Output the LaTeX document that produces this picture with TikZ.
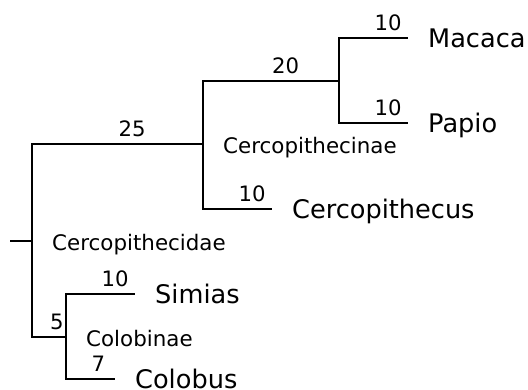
\documentclass[tikz,border=0pt]{standalone}
\usepackage{fontspec}
\setmainfont{DejaVu Sans}
\usetikzlibrary{positioning}
\begin{document}
\begin{tikzpicture}[x=1bp, y=-1bp,
    branch/.style={line width=2.2bp},
    taxon/.style={font=\fontsize{25.6bp}{30bp}\selectfont, inner sep=0pt, text height=18.7bp, text depth=0pt},
    dist/.style={font=\fontsize{21.2bp}{25bp}\selectfont, inner sep=0pt, anchor=base west, yshift=8bp},
    clade/.style={font=\fontsize{21.4bp}{25bp}\selectfont, inner sep=0pt, anchor=base west, xshift=20bp, yshift=-9.5bp}]
    \useasboundingbox (0,0) rectangle (528,389);
    % branch points
    \coordinate (base) at (10,241);
    \coordinate (root) at (32,241);
    \coordinate (cercopithecinae) at (203,144);
    \coordinate (macpap) at (339,81);
    \coordinate (macaca) at (408,38);
    \coordinate (papio) at (408,123);
    \coordinate (cercopithecus) at (272,209);
    \coordinate (colobinae) at (66,337);
    \coordinate (simias) at (135,294);
    \coordinate (colobus) at (115,379);
    % branches
    \draw[branch] (base) -- (root);
    \draw[branch] (root) |- node[dist, pos=0.75] {25} (cercopithecinae);
    \draw[branch] (cercopithecinae) |- node[dist, pos=0.75] {20} (macpap);
    \draw[branch] (macpap) |- node[dist, pos=0.75] {10} (macaca);
    \draw[branch] (macpap) |- node[dist, pos=0.75] {10} (papio);
    \draw[branch] (cercopithecinae) |- node[dist, pos=0.75] {10} (cercopithecus);
    \draw[branch] (root) |- node[dist, pos=0.75] {5} (colobinae);
    \draw[branch] (colobinae) |- node[dist, pos=0.75] {10} (simias);
    \draw[branch] (colobinae) |- node[dist, pos=0.75] {7} (colobus);
    % clade names
    \node[clade] (cercopithecidaename) at (root) {Cercopithecidae};
    \node[clade] (cercopithecinaename) at (cercopithecinae) {Cercopithecinae};
    \node[clade] (colobinaename) at (colobinae) {Colobinae};
    % taxa
    \node[taxon, right=20bp of macaca] (macacaname) {Macaca};
    \node[taxon, right=20bp of papio] (papioname) {Papio};
    \node[taxon, right=20bp of cercopithecus] (cercopithecusname) {Cercopithecus};
    \node[taxon, right=20bp of simias] (simiasname) {Simias};
    \node[taxon, right=20bp of colobus] (colobusname) {Colobus};
\end{tikzpicture}
\end{document}
